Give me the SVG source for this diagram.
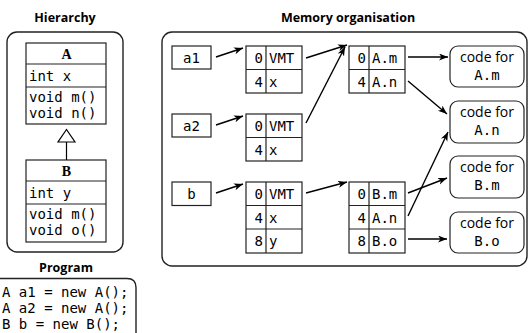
<svg xmlns="http://www.w3.org/2000/svg" width="529" height="333" viewBox="0 0 529 333">
<defs>
<marker id="ah" markerUnits="userSpaceOnUse" markerWidth="10" markerHeight="8" refX="9" refY="3.5" orient="auto">
<path d="M0,0 L9,3.5 L0,7 L2.5,3.5 z" fill="#000"/>
</marker>
<style>
.title{font-family:"Open Sans","Liberation Sans",sans-serif;font-weight:bold;font-size:12.5px;fill:#000;text-anchor:middle}
.mono{font-family:"DejaVu Sans Mono","Liberation Mono",monospace;font-size:14px;fill:#000}
.cls{font-family:"Liberation Serif",serif;font-weight:bold;font-size:14px;text-anchor:middle}
.prop{font-family:"Open Sans","Liberation Sans",sans-serif;font-size:14px;fill:#000;text-anchor:middle}
.box{fill:#fff;stroke:#222;stroke-width:1.2}
.frame{fill:none;stroke:#222;stroke-width:1.4}
.cell{fill:none;stroke:#222;stroke-width:1.2}
.mid{text-anchor:middle}
.end{text-anchor:end}
.conn{stroke:#000;stroke-width:1.4;fill:none;marker-end:url(#ah)}
</style>
</defs>
<rect width="529" height="333" fill="#fff"/>

<text class="title" x="65" y="22">Hierarchy</text>
<text class="title" x="348" y="22">Memory organisation</text>
<text class="title" x="66" y="272">Program</text>

<rect class="frame" x="7" y="32" width="116" height="220" rx="10"/>
<rect class="frame" x="162" y="32" width="365" height="234" rx="10"/>
<path class="frame" d="M0,278.5 H127 Q136,278.5 136,287.5 V345"/>

<g id="program">
<text class="mono" x="2" y="297" xml:space="preserve">A a1 = new A();</text>
<text class="mono" x="2" y="313" xml:space="preserve">A a2 = new A();</text>
<text class="mono" x="2" y="329" xml:space="preserve">B b = new B();</text>
</g>

<g id="classA">
<rect class="box" x="26" y="43" width="80" height="81"/>
<line class="cell" x1="26" y1="64" x2="106" y2="64"/>
<line class="cell" x1="26" y1="87" x2="106" y2="87"/>
<text class="cls" x="66.5" y="59">A</text>
<text class="mono" x="29" y="81">int x</text>
<text class="mono" x="29" y="102">void m()</text>
<text class="mono" x="29" y="118">void n()</text>
</g>

<g id="classB">
<rect class="box" x="26" y="160" width="80" height="82"/>
<line class="cell" x1="26" y1="181" x2="106" y2="181"/>
<line class="cell" x1="26" y1="204" x2="106" y2="204"/>
<text class="cls" x="66.5" y="176">B</text>
<text class="mono" x="29" y="198">int y</text>
<text class="mono" x="29" y="219">void m()</text>
<text class="mono" x="29" y="235">void o()</text>
</g>

<g id="var_a1">
<rect class="box" x="172" y="46" width="39" height="23"/>
<text class="mono mid" x="191.5" y="63">a1</text>
</g>
<g id="var_a2">
<rect class="box" x="172" y="114" width="39" height="23"/>
<text class="mono mid" x="191.5" y="131">a2</text>
</g>
<g id="var_b">
<rect class="box" x="172" y="182" width="39" height="23.5"/>
<text class="mono mid" x="191.5" y="199">b</text>
</g>

<g id="obj_a1">
<rect class="box" x="246" y="46" width="56" height="47"/>
<line class="cell" x1="246" y1="69.5" x2="302" y2="69.5"/>
<line class="cell" x1="266" y1="46" x2="266" y2="93"/>
<text class="mono end" x="263" y="63">0</text><text class="mono" x="269" y="63">VMT</text>
<text class="mono end" x="263" y="86.5">4</text><text class="mono" x="269" y="86.5">x</text>
</g>
<g id="obj_a2">
<rect class="box" x="246" y="114" width="56" height="47"/>
<line class="cell" x1="246" y1="137.5" x2="302" y2="137.5"/>
<line class="cell" x1="266" y1="114" x2="266" y2="161"/>
<text class="mono end" x="263" y="131">0</text><text class="mono" x="269" y="131">VMT</text>
<text class="mono end" x="263" y="154.5">4</text><text class="mono" x="269" y="154.5">x</text>
</g>
<g id="obj_b">
<rect class="box" x="246" y="182" width="56" height="71"/>
<line class="cell" x1="246" y1="205.5" x2="302" y2="205.5"/>
<line class="cell" x1="246" y1="229" x2="302" y2="229"/>
<line class="cell" x1="266" y1="182" x2="266" y2="253"/>
<text class="mono end" x="263" y="199">0</text><text class="mono" x="269" y="199">VMT</text>
<text class="mono end" x="263" y="222.5">4</text><text class="mono" x="269" y="222.5">x</text>
<text class="mono end" x="263" y="246">8</text><text class="mono" x="269" y="246">y</text>
</g>

<g id="vmt_A">
<rect class="box" x="349" y="46" width="56" height="47"/>
<line class="cell" x1="349" y1="69.5" x2="405" y2="69.5"/>
<line class="cell" x1="369" y1="46" x2="369" y2="93"/>
<text class="mono end" x="366" y="63">0</text><text class="mono" x="372" y="63">A.m</text>
<text class="mono end" x="366" y="86.5">4</text><text class="mono" x="372" y="86.5">A.n</text>
</g>
<g id="vmt_B">
<rect class="box" x="349" y="182" width="56" height="71"/>
<line class="cell" x1="349" y1="205.5" x2="405" y2="205.5"/>
<line class="cell" x1="349" y1="229" x2="405" y2="229"/>
<line class="cell" x1="369" y1="182" x2="369" y2="253"/>
<text class="mono end" x="366" y="199">0</text><text class="mono" x="372" y="199">B.m</text>
<text class="mono end" x="366" y="222.5">4</text><text class="mono" x="372" y="222.5">A.n</text>
<text class="mono end" x="366" y="246">8</text><text class="mono" x="372" y="246">B.o</text>
</g>

<g id="code_Am">
<rect class="box" x="450" y="46" width="74" height="41" rx="8"/>
<text class="prop" x="487" y="62">code for</text>
<text class="mono mid" x="487" y="80">A.m</text>
</g>
<g id="code_An">
<rect class="box" x="450" y="101" width="74" height="42" rx="8"/>
<text class="prop" x="487" y="117">code for</text>
<text class="mono mid" x="487" y="135">A.n</text>
</g>
<g id="code_Bm">
<rect class="box" x="450" y="156" width="74" height="42" rx="8"/>
<text class="prop" x="487" y="172">code for</text>
<text class="mono mid" x="487" y="190">B.m</text>
</g>
<g id="code_Bo">
<rect class="box" x="450" y="212" width="74" height="41" rx="8"/>
<text class="prop" x="487" y="228">code for</text>
<text class="mono mid" x="487" y="246">B.o</text>
</g>

<g id="connectors">
<line x1="66.5" y1="160" x2="66.5" y2="142" stroke="#000" stroke-width="1.2"/>
<polygon points="66.5,129.5 58,142 75,142" fill="#fff" stroke="#000" stroke-width="1.2"/>
<line class="conn" x1="216" y1="57" x2="243" y2="48"/>
<line class="conn" x1="216" y1="125" x2="243" y2="116"/>
<line class="conn" x1="216" y1="193" x2="243" y2="184"/>
<line class="conn" x1="306" y1="58" x2="347" y2="45"/>
<line class="conn" x1="306" y1="123" x2="345" y2="47"/>
<line class="conn" x1="306" y1="193" x2="347" y2="182"/>
<line class="conn" x1="408" y1="57" x2="448" y2="57"/>
<line class="conn" x1="408" y1="81" x2="447" y2="114"/>
<line class="conn" x1="408" y1="193" x2="447" y2="178"/>
<line class="conn" x1="408" y1="216" x2="448" y2="132"/>
<line class="conn" x1="408" y1="239" x2="447" y2="239"/>
</g>
</svg>
